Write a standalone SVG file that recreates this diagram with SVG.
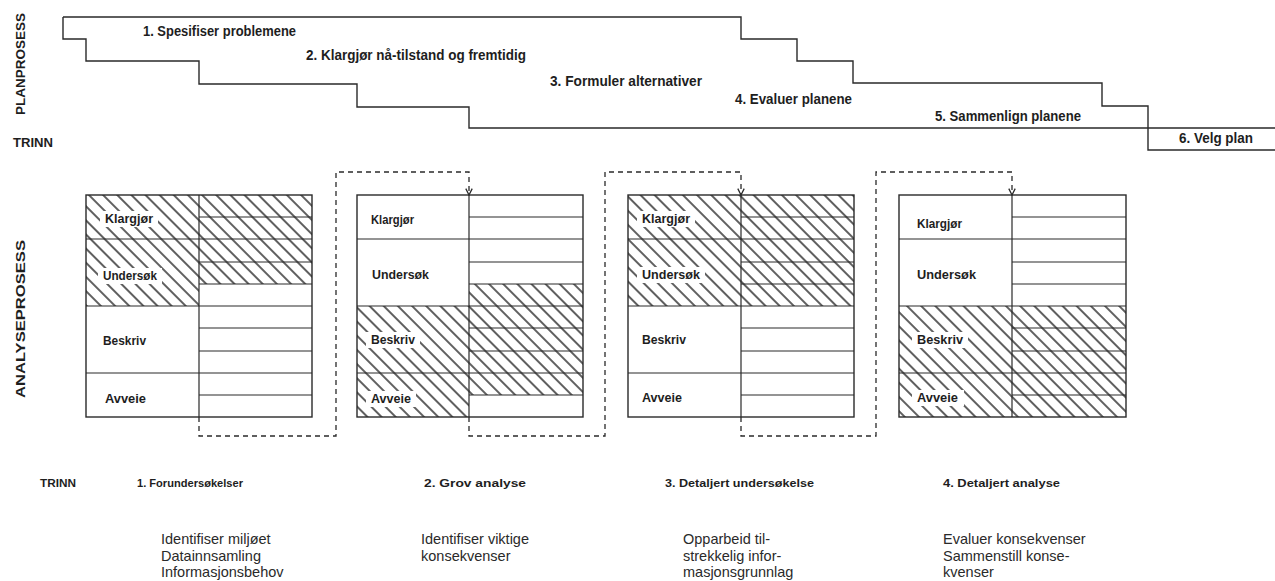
<svg xmlns="http://www.w3.org/2000/svg" width="1275" height="581" viewBox="0 0 1275 581">
<style>
.ln{fill:none;stroke:#2a2a2a;stroke-width:1.4}
.thin{fill:none;stroke:#2a2a2a;stroke-width:1.2}
.hb{fill:url(#hatch);stroke:none}
.wb{fill:#fff;stroke:none}
.cond{font-family:"Liberation Sans Narrow","Liberation Sans",Arial,sans-serif;font-weight:bold;fill:#1e1e1e}
.step{font-size:14.5px}
.lbl{font-size:13px}
.side{font-size:13.5px}
.bstep{font-size:11.5px}
.desc{font-family:"Liberation Sans",Arial,sans-serif;font-size:14.5px;fill:#2a2a2a}
.dash{fill:none;stroke:#2a2a2a;stroke-width:1.3;stroke-dasharray:5 4}
</style>
<defs>
<pattern id="hatch" width="10" height="10" patternUnits="userSpaceOnUse" patternTransform="rotate(45)">
<line x1="0" y1="5" x2="10" y2="5" stroke="#1a1a1a" stroke-width="1.4"/>
</pattern>
<marker id="arr" viewBox="0 0 10 10" refX="9" refY="5" markerWidth="8" markerHeight="8" markerUnits="userSpaceOnUse" orient="auto">
<path d="M1,1 L9,5 L1,9" fill="none" stroke="#2a2a2a" stroke-width="1.6" stroke-dasharray="none"/>
</marker>
</defs>
<rect x="0" y="0" width="1275" height="581" fill="#fff"/>

<g id="planprosess">
<path class="ln" d="M63,17 V39 H86 V61 H199 V84 H357 V107 H469 V128 H1275"/>
<path class="ln" d="M63,17 H741 V39 H797 V61 H853 V83 H1102 V106 H1148 V150 H1275"/>
<text class="cond step" x="143" y="36" textLength="153" lengthAdjust="spacingAndGlyphs">1. Spesifiser problemene</text>
<text class="cond step" x="306" y="60" textLength="220" lengthAdjust="spacingAndGlyphs">2. Klargjør nå-tilstand og fremtidig</text>
<text class="cond step" x="550" y="86" textLength="152" lengthAdjust="spacingAndGlyphs">3. Formuler alternativer</text>
<text class="cond step" x="735" y="104" textLength="117" lengthAdjust="spacingAndGlyphs">4. Evaluer planene</text>
<text class="cond step" x="935" y="121" textLength="146" lengthAdjust="spacingAndGlyphs">5. Sammenlign planene</text>
<text class="cond step" x="1179" y="143" textLength="74" lengthAdjust="spacingAndGlyphs">6. Velg plan</text>
</g>

<g id="side-labels">
<text class="cond side" transform="translate(25,64) rotate(-90)" text-anchor="middle" textLength="102" lengthAdjust="spacingAndGlyphs">PLANPROSESS</text>
<text class="cond lbl" x="13" y="147" textLength="40" lengthAdjust="spacingAndGlyphs">TRINN</text>
<text class="cond side" transform="translate(25,319) rotate(-90)" text-anchor="middle" textLength="158" lengthAdjust="spacingAndGlyphs">ANALYSEPROSESS</text>
<text class="cond bstep" x="40" y="487" textLength="36" lengthAdjust="spacingAndGlyphs">TRINN</text>
</g>

<g id="box1">
<rect class="hb" x="86" y="195" width="113" height="111"/>
<rect class="hb" x="199" y="195" width="113" height="89"/>
<path class="thin" d="M86,239 H199 M86,306 H199 M86,373 H199 M199,217 H312 M199,239 H312 M199,262 H312 M199,284 H312 M199,306 H312 M199,328 H312 M199,351 H312 M199,373 H312 M199,395 H312 M199,195 V417"/>
<rect class="ln" x="86" y="195" width="226" height="222"/>
<rect class="wb" x="100" y="211" width="58" height="16"/>
<rect class="wb" x="98" y="268" width="64" height="16"/>
<text class="cond lbl" x="105" y="223" textLength="48" lengthAdjust="spacingAndGlyphs">Klargjør</text>
<text class="cond lbl" x="103" y="280" textLength="54" lengthAdjust="spacingAndGlyphs">Undersøk</text>
<text class="cond lbl" x="103" y="345" textLength="43" lengthAdjust="spacingAndGlyphs">Beskriv</text>
<text class="cond lbl" x="105" y="403" textLength="41" lengthAdjust="spacingAndGlyphs">Avveie</text>
</g>

<g id="box2">
<rect class="hb" x="357" y="306" width="112" height="111"/>
<rect class="hb" x="469" y="284" width="114" height="111"/>
<path class="thin" d="M357,239 H469 M357,306 H469 M357,373 H469 M469,217 H583 M469,239 H583 M469,262 H583 M469,284 H583 M469,306 H583 M469,328 H583 M469,351 H583 M469,373 H583 M469,395 H583 M469,195 V417"/>
<rect class="ln" x="357" y="195" width="226" height="222"/>
<rect class="wb" x="366" y="332" width="54" height="16"/>
<rect class="wb" x="366" y="391" width="50" height="16"/>
<text class="cond lbl" x="371" y="224" textLength="43" lengthAdjust="spacingAndGlyphs">Klargjør</text>
<text class="cond lbl" x="372" y="279" textLength="57" lengthAdjust="spacingAndGlyphs">Undersøk</text>
<text class="cond lbl" x="371" y="344" textLength="44" lengthAdjust="spacingAndGlyphs">Beskriv</text>
<text class="cond lbl" x="371" y="403" textLength="40" lengthAdjust="spacingAndGlyphs">Avveie</text>
</g>

<g id="box3">
<rect class="hb" x="628" y="195" width="113" height="111"/>
<rect class="hb" x="741" y="195" width="113" height="111"/>
<path class="thin" d="M628,239 H741 M628,306 H741 M628,373 H741 M741,217 H854 M741,239 H854 M741,262 H854 M741,284 H854 M741,306 H854 M741,328 H854 M741,351 H854 M741,373 H854 M741,395 H854 M741,195 V417"/>
<rect class="ln" x="628" y="195" width="226" height="222"/>
<rect class="wb" x="637" y="211" width="58" height="16"/>
<rect class="wb" x="637" y="267" width="68" height="16"/>
<text class="cond lbl" x="642" y="223" textLength="48" lengthAdjust="spacingAndGlyphs">Klargjør</text>
<text class="cond lbl" x="642" y="279" textLength="58" lengthAdjust="spacingAndGlyphs">Undersøk</text>
<text class="cond lbl" x="642" y="344" textLength="44" lengthAdjust="spacingAndGlyphs">Beskriv</text>
<text class="cond lbl" x="642" y="402" textLength="40" lengthAdjust="spacingAndGlyphs">Avveie</text>
</g>

<g id="box4">
<rect class="hb" x="899" y="306" width="113" height="111"/>
<rect class="hb" x="1012" y="306" width="114" height="111"/>
<path class="thin" d="M899,239 H1012 M899,306 H1012 M899,373 H1012 M1012,217 H1126 M1012,239 H1126 M1012,262 H1126 M1012,284 H1126 M1012,306 H1126 M1012,328 H1126 M1012,351 H1126 M1012,373 H1126 M1012,395 H1126 M1012,195 V417"/>
<rect class="ln" x="899" y="195" width="227" height="222"/>
<rect class="wb" x="912" y="332" width="56" height="16"/>
<rect class="wb" x="912" y="390" width="52" height="16"/>
<text class="cond lbl" x="917" y="228" textLength="45" lengthAdjust="spacingAndGlyphs">Klargjør</text>
<text class="cond lbl" x="917" y="279" textLength="59" lengthAdjust="spacingAndGlyphs">Undersøk</text>
<text class="cond lbl" x="917" y="344" textLength="46" lengthAdjust="spacingAndGlyphs">Beskriv</text>
<text class="cond lbl" x="917" y="402" textLength="41" lengthAdjust="spacingAndGlyphs">Avveie</text>
</g>

<g id="connectors">
<path class="dash" d="M199,417 V436 H336 V172 H469 V195" marker-end="url(#arr)"/>
<path class="dash" d="M469,417 V436 H605 V172 H741 V195" marker-end="url(#arr)"/>
<path class="dash" d="M741,417 V436 H876 V172 H1012 V195" marker-end="url(#arr)"/>
</g>

<g id="trinn-labels">
<text class="cond bstep" x="137" y="487" textLength="106" lengthAdjust="spacingAndGlyphs">1. Forundersøkelser</text>
<text class="cond bstep" x="424" y="487" textLength="102" lengthAdjust="spacingAndGlyphs">2. Grov  analyse</text>
<text class="cond bstep" x="665" y="487" textLength="149" lengthAdjust="spacingAndGlyphs">3. Detaljert  undersøkelse</text>
<text class="cond bstep" x="943" y="487" textLength="117" lengthAdjust="spacingAndGlyphs">4. Detaljert  analyse</text>
</g>

<g id="descriptions">
<text class="desc" x="161" y="544">Identifiser miljøet</text>
<text class="desc" x="161" y="561">Datainnsamling</text>
<text class="desc" x="161" y="577">Informasjonsbehov</text>
<text class="desc" x="421" y="544">Identifiser viktige</text>
<text class="desc" x="421" y="561">konsekvenser</text>
<text class="desc" x="683" y="544">Opparbeid til-</text>
<text class="desc" x="683" y="561">strekkelig infor-</text>
<text class="desc" x="683" y="577">masjonsgrunnlag</text>
<text class="desc" x="943" y="544">Evaluer konsekvenser</text>
<text class="desc" x="943" y="561">Sammenstill konse-</text>
<text class="desc" x="943" y="577">kvenser</text>
</g>
</svg>
